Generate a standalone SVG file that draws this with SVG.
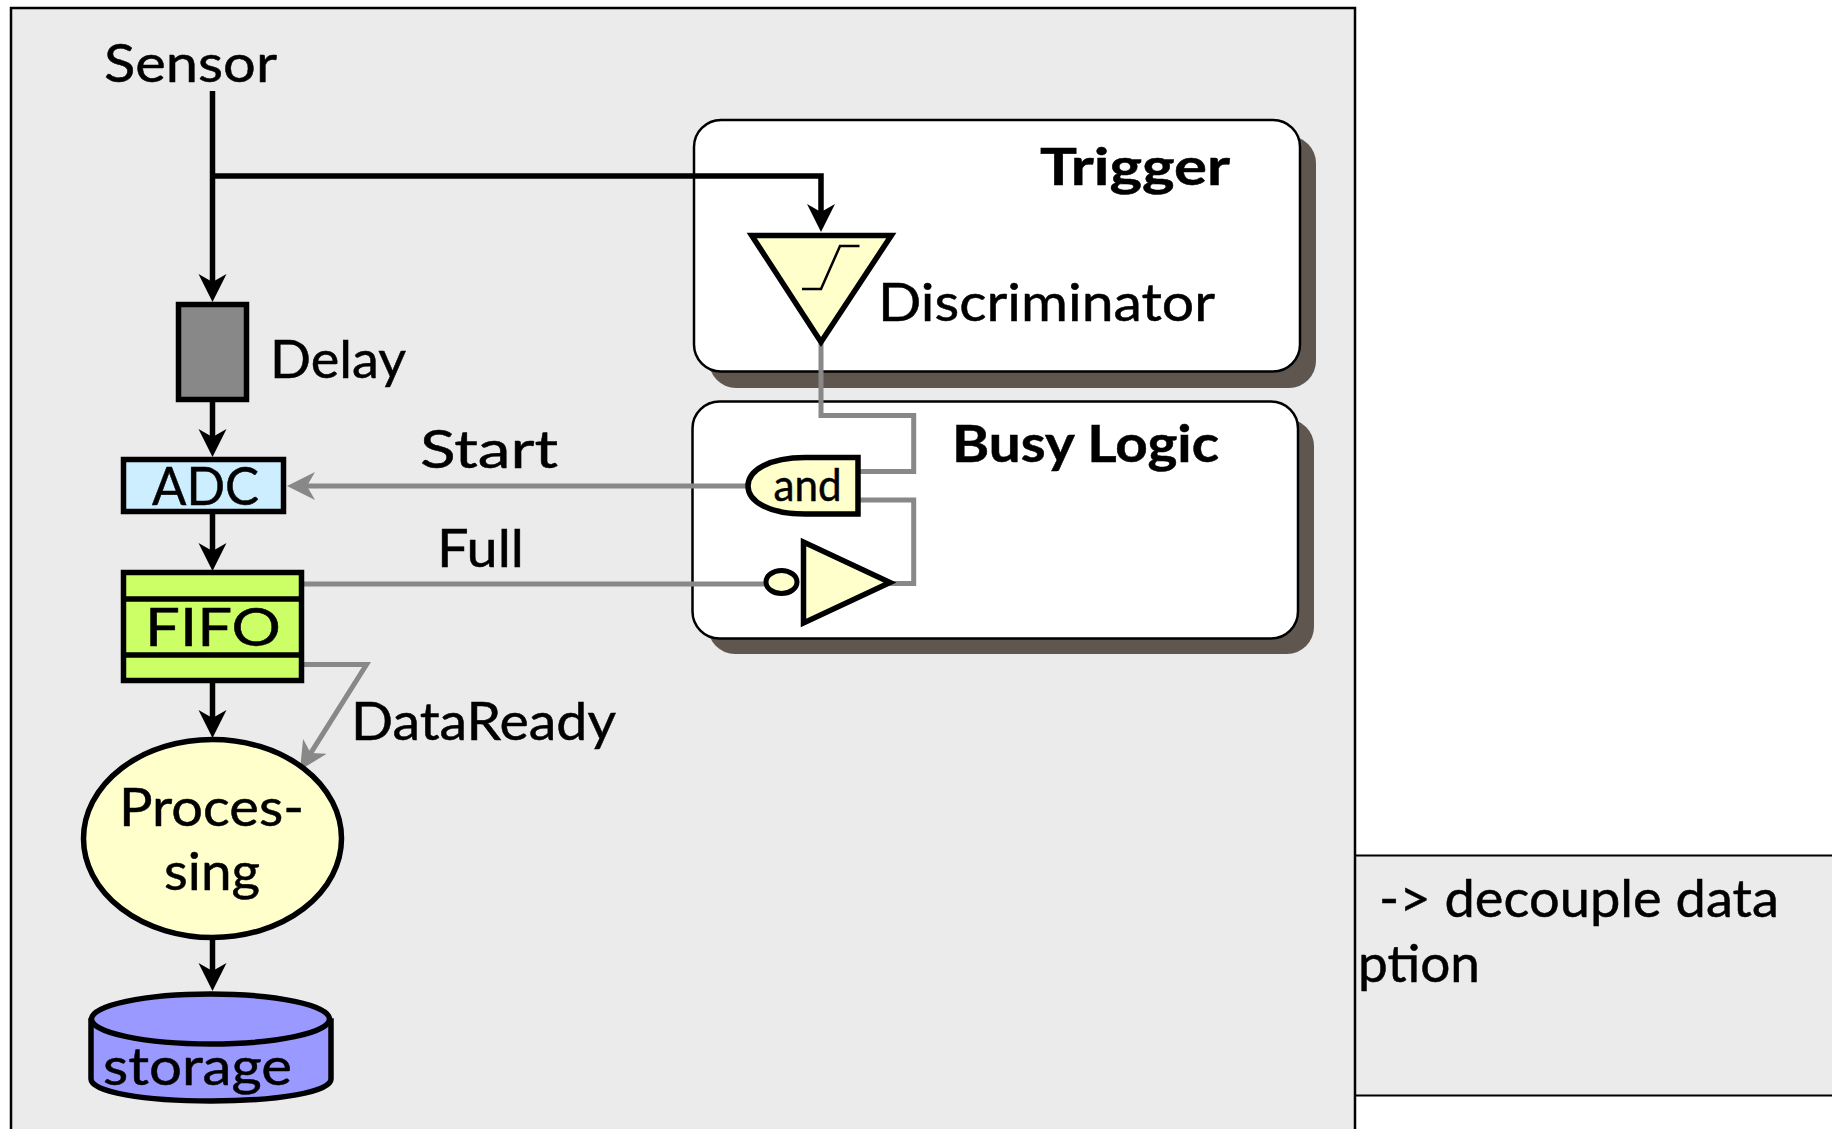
<svg xmlns="http://www.w3.org/2000/svg" width="1832" height="1129" viewBox="0 0 1832 1129">
<style>
text{font-family:"Lato","Open Sans","Liberation Sans",sans-serif;font-size:52px;fill:#000;stroke:#000;stroke-width:.5}
.b{font-weight:700}
.n{stroke:#000;stroke-width:5.500}
.box{fill:#fff;stroke:#000;stroke-width:2.500}
.sh{fill:#5f574f}
.k{fill:none;stroke:#000;stroke-width:5.500}
.g{fill:none;stroke:#888;stroke-width:5}
.y{fill:#ffc}
.panel{fill:#ebebeb;stroke:#000;stroke-width:2}
</style>
<defs>
<marker id="ak" markerUnits="userSpaceOnUse" viewBox="0 -15 30 30" markerWidth="30" markerHeight="30" refX="10" refY="0" orient="auto"><path d="M28,0 L0,-14 L8,0 L0,14 Z" fill="#000"/></marker>
<marker id="ag" markerUnits="userSpaceOnUse" viewBox="0 -15 30 30" markerWidth="30" markerHeight="30" refX="10" refY="0" orient="auto"><path d="M28,0 L0,-14 L8,0 L0,14 Z" fill="#888"/></marker>
</defs>
<rect width="1832" height="1129" fill="#fff"/>
<g id="note-panel">
<rect class="panel" x="1340" y="855.500" width="510" height="240"/>
<text x="1379" y="917" textLength="400" lengthAdjust="spacingAndGlyphs">-&gt; decouple data</text>
<text x="1358" y="982" textLength="122" lengthAdjust="spacingAndGlyphs">ption</text>
</g>
<g id="frame"><rect x="11" y="8" width="1344" height="1140" fill="#ebebeb" stroke="#000" stroke-width="2.500"/></g>
<g id="trigger-box">
<rect class="sh" x="709" y="136" width="607" height="252" rx="27"/>
<rect class="box" x="694" y="120" width="606" height="251.500" rx="27"/>
<text class="b" x="1040" y="185" textLength="190" lengthAdjust="spacingAndGlyphs">Trigger</text>
</g>
<g id="busy-box">
<rect class="sh" x="708" y="419" width="606" height="235" rx="27"/>
<rect class="box" x="692.500" y="401.500" width="605.500" height="237" rx="27"/>
<text class="b" x="952" y="462" textLength="267" lengthAdjust="spacingAndGlyphs">Busy Logic</text>
</g>
<g id="connectors">
<path class="k" d="M212.500,91 V284" marker-end="url(#ak)"/>
<path class="k" d="M212.500,176 H821 V214" marker-end="url(#ak)"/>
<path class="k" d="M212.500,402 V439" marker-end="url(#ak)"/>
<path class="k" d="M212.500,514 V553" marker-end="url(#ak)"/>
<path class="k" d="M212.500,683 V720" marker-end="url(#ak)"/>
<path class="k" d="M212.500,938 V973" marker-end="url(#ak)"/>
<path class="g" d="M747,486 H305" marker-end="url(#ag)"/>
<path class="g" d="M304,584 H766"/>
<path class="g" d="M300,664.500 H366.500 L309.600,754.800" marker-end="url(#ag)"/>
<path class="g" d="M821,342 V415.500 H913.700 V471.500 H858"/>
<path class="g" d="M858,500 H913.700 V583.500 H888"/>
</g>
<g id="sensor"><text x="104" y="82" textLength="173" lengthAdjust="spacingAndGlyphs">Sensor</text></g>
<g id="delay">
<rect class="n" x="178.500" y="304.500" width="68" height="95" fill="#888"/>
<text x="270" y="378" textLength="136" lengthAdjust="spacingAndGlyphs">Delay</text>
</g>
<g id="adc">
<rect class="n" x="123.500" y="459.500" width="160" height="52" fill="#cef"/>
<text x="152" y="505" textLength="107" lengthAdjust="spacingAndGlyphs">ADC</text>
</g>
<g id="start-label"><text x="420" y="468" textLength="138" lengthAdjust="spacingAndGlyphs">Start</text></g>
<g id="full-label"><text x="437" y="567" textLength="87" lengthAdjust="spacingAndGlyphs">Full</text></g>
<g id="fifo">
<rect class="n" x="123.500" y="572.500" width="178" height="108" fill="#cf6"/>
<path class="n" d="M121,599 H304 M121,655 H304" fill="none"/>
<text x="145" y="646" textLength="136" lengthAdjust="spacingAndGlyphs">FIFO</text>
</g>
<g id="dataready-label"><text x="351" y="740" textLength="265" lengthAdjust="spacingAndGlyphs">DataReady</text></g>
<g id="processing">
<ellipse class="n y" cx="212.500" cy="838.500" rx="129" ry="99"/>
<text x="119" y="826" textLength="185" lengthAdjust="spacingAndGlyphs">Proces-</text>
<text x="164" y="890" textLength="96" lengthAdjust="spacingAndGlyphs">sing</text>
</g>
<g id="storage">
<path class="n" d="M91,1021 V1079 C91,1092 144,1101 211,1101 C278,1101 331,1092 331,1079 V1021 Z" fill="#99f"/>
<ellipse class="n" cx="210.500" cy="1019" rx="119" ry="25" fill="#99f"/>
<text x="103" y="1085" textLength="189" lengthAdjust="spacingAndGlyphs">storage</text>
</g>
<g id="discriminator">
<polygon class="n y" points="751.700,235.500 891.300,235.500 821,342"/>
<path d="M802,289 H821 L840,246 H859.500" fill="none" stroke="#000" stroke-width="2.500"/>
<text x="878" y="321" textLength="337" lengthAdjust="spacingAndGlyphs">Discriminator</text>
</g>
<g id="and-gate">
<path class="n y" d="M858,457.500 H805 C770,457.500 748,470 748,486 C748,502 770,514 805,514 H858 Z"/>
<text x="773.600" y="501" style="font-size:44px" textLength="68" lengthAdjust="spacingAndGlyphs">and</text>
</g>
<g id="inverter">
<polygon class="n y" points="803.500,542 803.500,623 890,582.500"/>
<ellipse class="y" cx="781.500" cy="582" rx="15.500" ry="11.500" stroke="#000" stroke-width="5"/>
</g>
</svg>
